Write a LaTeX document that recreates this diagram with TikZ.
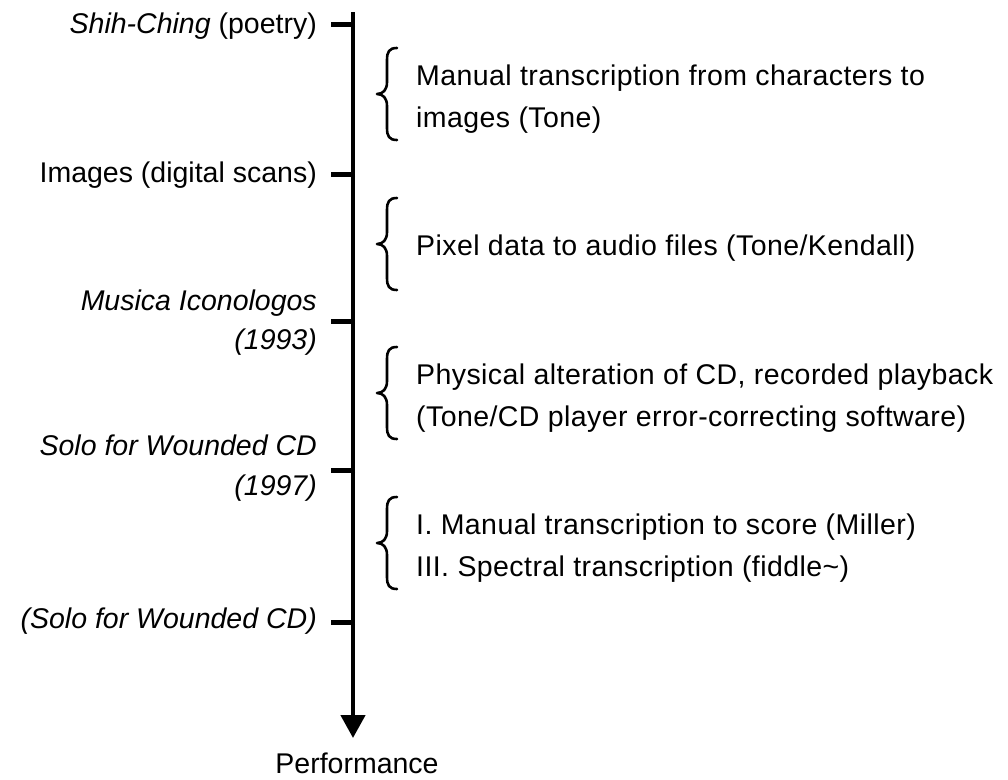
\documentclass[tikz,border=0pt]{standalone}
\usepackage{fontspec}
\setmainfont{Liberation Sans}
\newfontfamily\spacedfont[LetterSpace=1.5]{Liberation Sans}
\usetikzlibrary{arrows.meta}
\begin{document}
\begin{tikzpicture}[x=1pt,y=-1pt,
  lbl/.style={inner sep=0pt, font=\fontsize{28.5}{34}\selectfont},
  leftlbl/.style={lbl, anchor=base east},
  rightlbl/.style={inner sep=0pt, anchor=base west, font=\spacedfont\fontsize{28.5}{34}\selectfont},
  axisline/.style={line width=4.5pt},
  tickline/.style={line width=5pt},
  bracestyle/.style={line width=2.6pt, line cap=round, line join=round},
  cbrace/.pic={\draw[bracestyle] (20,-46) .. controls (12,-46) and (10,-42) .. (10,-34) -- (10,-12) .. controls (10,-4) and (6,0) .. (0,0) .. controls (6,0) and (10,4) .. (10,12) -- (10,34) .. controls (10,42) and (12,46) .. (20,46);}
]
\useasboundingbox (0,0) rectangle (1008,779);

% axis
\coordinate (top) at (353,12);
\coordinate (tip) at (353,738);
\node[lbl, anchor=base] (perf) at (357,773) {Performance};
\draw[axisline, -{Triangle[width=24pt,length=23pt]}] (top) -- (tip);

% ticks
\coordinate (t1) at (353,24);
\coordinate (t2) at (353,174);
\coordinate (t3) at (353,321);
\coordinate (t4) at (353,470);
\coordinate (t5) at (353,622);
\foreach \t in {t1,t2,t3,t4,t5}{\draw[tickline] ([xshift=2pt]\t) -- ++(-24,0);}

% left labels
\node[leftlbl] (shih) at (317,33) {\textit{Shih-Ching} (poetry)};
\node[leftlbl] (images) at (317,182) {Images (digital scans)};
\node[leftlbl] (musica) at (317,310) {\textit{Musica Iconologos}};
\node[leftlbl] (musicay) at (317,349) {\textit{(1993)}};
\node[leftlbl] (solo) at (317,455) {\textit{Solo for Wounded CD}};
\node[leftlbl] (soloy) at (317,495) {\textit{(1997)}};
\node[leftlbl] (solob) at (317,628) {\textit{(Solo for Wounded CD)}};

% braces
\pic at (377,94) {cbrace};
\pic at (377,244) {cbrace};
\pic at (377,393) {cbrace};
\pic at (377,543) {cbrace};

% right labels
\node[rightlbl] (r1a) at (416,85) {Manual transcription from characters to};
\node[rightlbl] (r1b) at (416,127) {images (Tone)};
\node[rightlbl] (r2) at (416,255) {Pixel data to audio files (Tone/Kendall)};
\node[rightlbl] (r3a) at (416,384) {Physical alteration of CD, recorded playback};
\node[rightlbl] (r3b) at (416,426) {(Tone/CD player error-correcting software)};
\node[rightlbl] (r4a) at (416,534) {I. Manual transcription to score (Miller)};
\node[rightlbl] (r4b) at (416,576) {III. Spectral transcription (fiddle\textasciitilde)};
\end{tikzpicture}
\end{document}
